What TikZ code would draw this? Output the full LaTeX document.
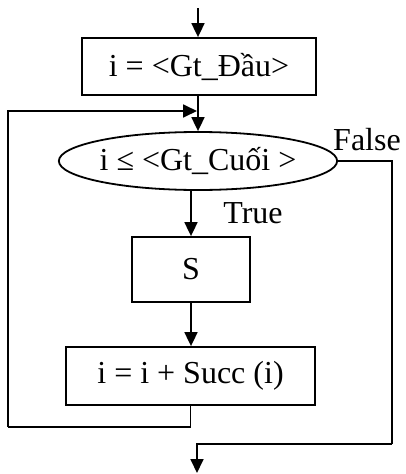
\documentclass[tikz,border=0pt]{standalone}
\usepackage{fontspec}
\setmainfont{Liberation Serif}
\usetikzlibrary{shapes.geometric,arrows.meta}
\begin{document}
\begin{tikzpicture}[x=1pt,y=-1pt,
  every node/.style={font=\fontsize{32}{38}\selectfont},
  stepbox/.style={draw,line width=1.8pt,rectangle,inner sep=0pt},
  condbox/.style={draw,line width=1.8pt,ellipse,inner sep=0pt},
  lbl/.style={inner sep=0pt},
  flow/.style={line width=1.8pt,-{Triangle[length=14pt,width=13pt]}},
  wire/.style={line width=1.8pt}]
\useasboundingbox (0,0) rectangle (405,474);
\node[stepbox,minimum width=234pt,minimum height=57pt] (b1) at (199,66.5) {i = <Gt\_Đầu>};
\node[condbox,minimum width=270pt,minimum height=58pt] (e) at (198,161) {i ≤ <Gt\_Cuối >};
\node[stepbox,minimum width=118pt,minimum height=65pt] (s) at (191,269.5) {S};
\node[stepbox,minimum width=249pt,minimum height=58pt] (b3) at (190.5,376) {i = i + Succ (i)};
\node[lbl] (f) at (367,140) {False};
\node[lbl] (t) at (253,213) {True};
\coordinate (top) at (198,8);
\coordinate (lp) at (8,427);
\coordinate (jn) at (197,111);
\coordinate (fr) at (392,444);
\coordinate (out) at (197,473);
\draw[flow] (top) -- (b1.north -| top);
\draw[flow] (b1.south -| top) -- (e.north -| top);
\draw[flow] (e.south -| s.north) -- (s.north);
\draw[flow] (s.south) -- (b3.north -| s.south);
\draw[wire] (b3.south) |- (lp);
\draw[flow] (lp) |- (jn);
\draw[wire] (e.east) -| (fr);
\draw[flow] (fr) -| (out);
\end{tikzpicture}
\end{document}
